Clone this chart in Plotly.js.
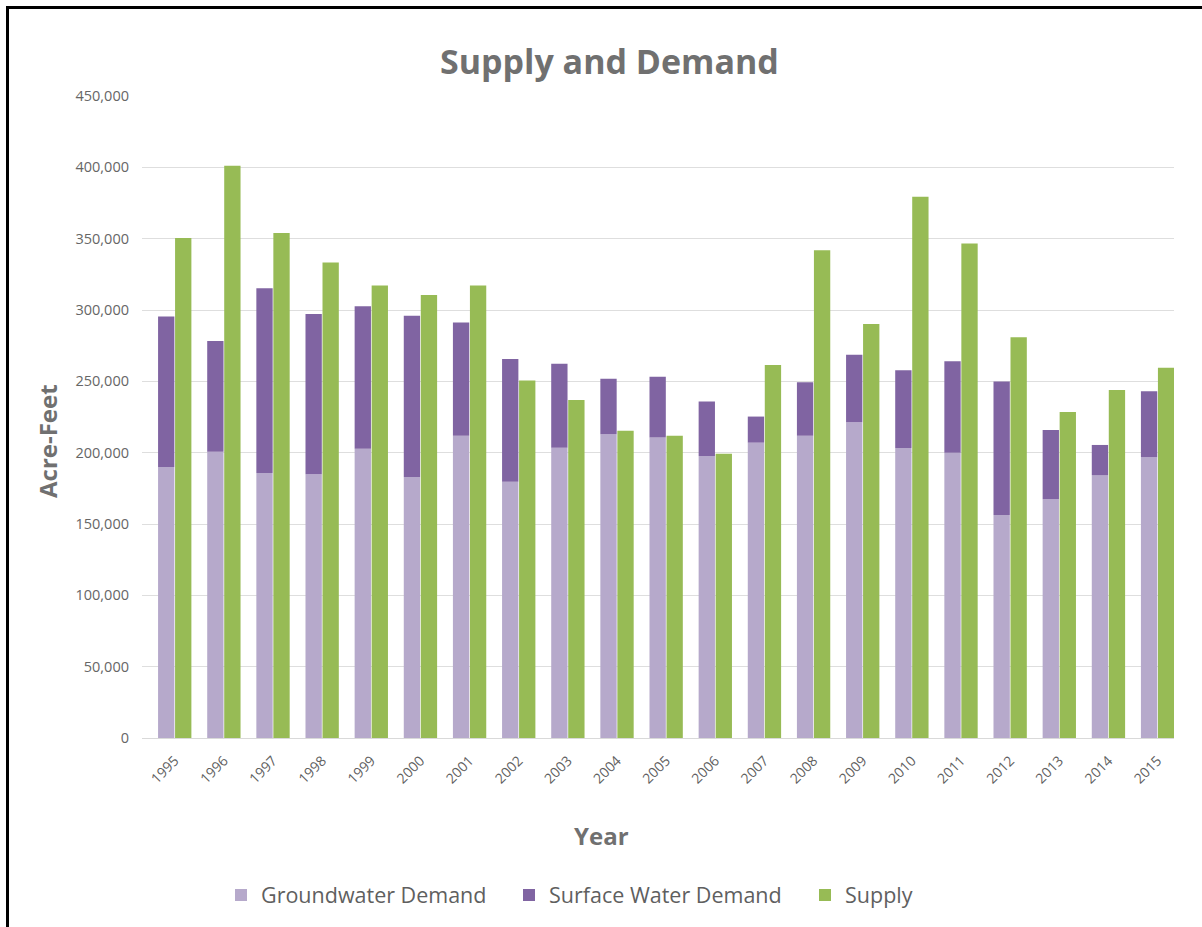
<!DOCTYPE html>
<html>
<head>
<meta charset="utf-8">
<script src="https://cdn.plot.ly/plotly-3.0.1.min.js"></script>
<style>
  html, body { margin: 0; padding: 0; background: #ffffff; }
  #wrap { position: relative; width: 1202px; height: 927px; overflow: hidden; }
  #chart { position: absolute; left: 0; top: 0; width: 1202px; height: 927px; }
  #frame { position: absolute; left: 6px; top: 6px; width: 1196px; height: 921px;
           border-left: 3px solid #000; border-top: 3px solid #000; box-sizing: border-box;
           pointer-events: none; }
</style>
</head>
<body>
<div id="wrap">
  <div id="chart"></div>
  <div id="frame"></div>
</div>
<script>
const years = ['1995','1996','1997','1998','1999','2000','2001','2002','2003','2004','2005',
               '2006','2007','2008','2009','2010','2011','2012','2013','2014','2015'];
const groundwaterDemand = [190000, 200700, 185700, 184800, 202800, 182900, 211800, 179600, 203500, 212900, 210600,
                           197700, 207000, 211900, 221300, 203300, 200000, 156300, 167300, 184300, 196800];
const surfaceWaterDemand = [105500, 77600, 129500, 112400, 99800, 113100, 79500, 86000, 58800, 38900, 42600,
                            38200, 18300, 37400, 47300, 54400, 64000, 93500, 48600, 21100, 46200];
const supply = [350500, 401100, 353900, 333300, 317200, 310500, 317200, 250500, 237000, 215300, 211800,
                199300, 261400, 341900, 290200, 379400, 346600, 280900, 228500, 243900, 259500];
const yTickValues = [0, 50000, 100000, 150000, 200000, 250000, 300000, 350000, 400000, 450000];

const FONT = '"Open Sans", "Noto Sans", sans-serif';
const GREY = '#5f5f5f';
const TITLE_GREY = '#707070';

const traces = [
  { type: 'bar', name: 'Groundwater Demand', x: years, y: groundwaterDemand, legend: 'legend',
    offsetgroup: 'demand', marker: { color: '#b6a9cb' }, hoverinfo: 'x+y+name' },
  { type: 'bar', name: 'Surface Water Demand', x: years, y: surfaceWaterDemand, base: groundwaterDemand,
    legend: 'legend2', offsetgroup: 'demand', marker: { color: '#8064a2' }, hoverinfo: 'x+y+name' },
  { type: 'bar', name: 'Supply', x: years, y: supply, legend: 'legend3',
    offsetgroup: 'supply', marker: { color: '#97bb55' }, hoverinfo: 'x+y+name' }
];

function legendAt(xpx) {
  return {
    orientation: 'h', x: xpx / 1202, xref: 'container', xanchor: 'left',
    y: 1 - 895 / 927, yref: 'container', yanchor: 'middle',
    font: { size: 21.5, color: GREY }, bgcolor: 'rgba(0,0,0,0)'
  };
}

const layout = {
  width: 1202, height: 927,
  paper_bgcolor: 'rgba(0,0,0,0)', plot_bgcolor: 'rgba(0,0,0,0)',
  margin: { l: 142, r: 28, t: 96, b: 189, autoexpand: false },
  font: { family: FONT, color: GREY },
  title: { text: '<b>Supply and Demand</b>', font: { family: FONT, size: 34, color: TITLE_GREY },
           x: 0.507, xref: 'container', xanchor: 'center', y: 0.933, yref: 'container', yanchor: 'middle' },
  barmode: 'group', bargap: 0.308, bargroupgap: 0.04,
  xaxis: {
    type: 'category', range: [-0.666, 20.334], tickangle: -45, tickfont: { size: 14, color: GREY },
    ticks: '', ticklabelstandoff: 8, showgrid: false, showline: true, linecolor: '#d9d9d9', linewidth: 1,
    automargin: false
  },
  yaxis: {
    range: [0, 450000], tickvals: yTickValues, tickformat: ',d',
    tickfont: { size: 14.5, color: '#666666' }, ticks: '', ticklabelstandoff: 12,
    showgrid: true, gridcolor: '#dedede', gridwidth: 1, zeroline: false,
    showline: false, automargin: false
  },
  annotations: [
    { text: '<b>Year</b>', xref: 'paper', yref: 'paper', x: (601 - 142) / 1032, y: (738 - 835) / 642,
      xanchor: 'center', yanchor: 'middle', showarrow: false, font: { size: 24, color: TITLE_GREY } },
    { text: '<b>Acre-Feet</b>', xref: 'paper', yref: 'paper', x: (47 - 142) / 1032, y: (738 - 441) / 642,
      textangle: -90, xanchor: 'center', yanchor: 'middle', showarrow: false, font: { size: 24, color: TITLE_GREY } }
  ],
  legend: legendAt(221),
  legend2: legendAt(509),
  legend3: legendAt(805),
  showlegend: true
};

Plotly.newPlot('chart', traces, layout, { displayModeBar: false, staticPlot: true });
</script>
</body>
</html>
